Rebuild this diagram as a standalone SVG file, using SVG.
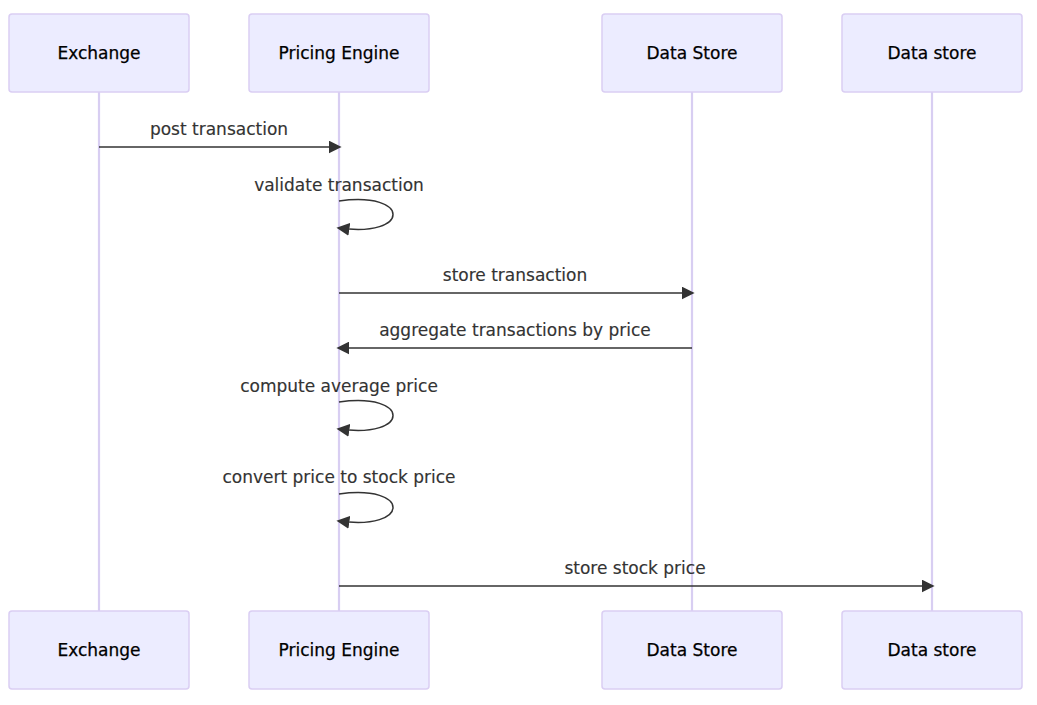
<svg xmlns="http://www.w3.org/2000/svg" width="1037" height="705" viewBox="0 0 1037 705">
<defs>
<style>
.actor{fill:#ECECFF;stroke:#DACEF3;stroke-width:1.5}
.actor-text{font-family:"DejaVu Sans",sans-serif;font-size:17px;fill:#000;stroke:#000;stroke-width:0.25;text-anchor:middle;dominant-baseline:central}
.life{stroke:#D8CEF2;stroke-width:2.2}
.msg{stroke:#333;stroke-width:1.5;fill:none}
.msg-text{font-family:"DejaVu Sans",sans-serif;font-size:17px;fill:#333;stroke:#333;stroke-width:0.15;text-anchor:middle}
</style>
<marker id="arrow" viewBox="0 0 10 10" refX="8" refY="5" markerWidth="13" markerHeight="13" markerUnits="userSpaceOnUse" orient="auto">
<path d="M0,0 L10,5 L0,10 z" fill="#333"/>
</marker>
</defs>
<rect width="1037" height="705" fill="#fff"/>
<g id="lifelines">
<line class="life" x1="99" y1="92" x2="99" y2="611"/>
<line class="life" x1="339" y1="92" x2="339" y2="611"/>
<line class="life" x1="692" y1="92" x2="692" y2="611"/>
<line class="life" x1="932" y1="92" x2="932" y2="611"/>
</g>
<g id="exchange-top"><rect class="actor" x="9" y="14" width="180" height="78" rx="3"/><text class="actor-text" x="99" y="53">Exchange</text></g>
<g id="pricing-top"><rect class="actor" x="249" y="14" width="180" height="78" rx="3"/><text class="actor-text" x="339" y="53">Pricing Engine</text></g>
<g id="datastore1-top"><rect class="actor" x="602" y="14" width="180" height="78" rx="3"/><text class="actor-text" x="692" y="53">Data Store</text></g>
<g id="datastore2-top"><rect class="actor" x="842" y="14" width="180" height="78" rx="3"/><text class="actor-text" x="932" y="53">Data store</text></g>
<g id="exchange-bottom"><rect class="actor" x="9" y="611" width="180" height="78" rx="3"/><text class="actor-text" x="99" y="650">Exchange</text></g>
<g id="pricing-bottom"><rect class="actor" x="249" y="611" width="180" height="78" rx="3"/><text class="actor-text" x="339" y="650">Pricing Engine</text></g>
<g id="datastore1-bottom"><rect class="actor" x="602" y="611" width="180" height="78" rx="3"/><text class="actor-text" x="692" y="650">Data Store</text></g>
<g id="datastore2-bottom"><rect class="actor" x="842" y="611" width="180" height="78" rx="3"/><text class="actor-text" x="932" y="650">Data store</text></g>
<g id="connectors">
<text class="msg-text" x="219" y="135">post transaction</text>
<line class="msg" x1="99" y1="147" x2="339" y2="147" marker-end="url(#arrow)"/>
<text class="msg-text" x="339" y="191">validate transaction</text>
<path class="msg" d="M339,201 C411,191 411,238 339,228" marker-end="url(#arrow)"/>
<text class="msg-text" x="515" y="281">store transaction</text>
<line class="msg" x1="339" y1="293" x2="692" y2="293" marker-end="url(#arrow)"/>
<text class="msg-text" x="515" y="336">aggregate transactions by price</text>
<line class="msg" x1="692" y1="348" x2="339" y2="348" marker-end="url(#arrow)"/>
<text class="msg-text" x="339" y="392">compute average price</text>
<path class="msg" d="M339,402 C411,392 411,439 339,429" marker-end="url(#arrow)"/>
<text class="msg-text" x="339" y="483">convert price to stock price</text>
<path class="msg" d="M339,494 C411,484 411,531 339,521" marker-end="url(#arrow)"/>
<text class="msg-text" x="635" y="574">store stock price</text>
<line class="msg" x1="339" y1="586" x2="932" y2="586" marker-end="url(#arrow)"/>
</g>
</svg>
